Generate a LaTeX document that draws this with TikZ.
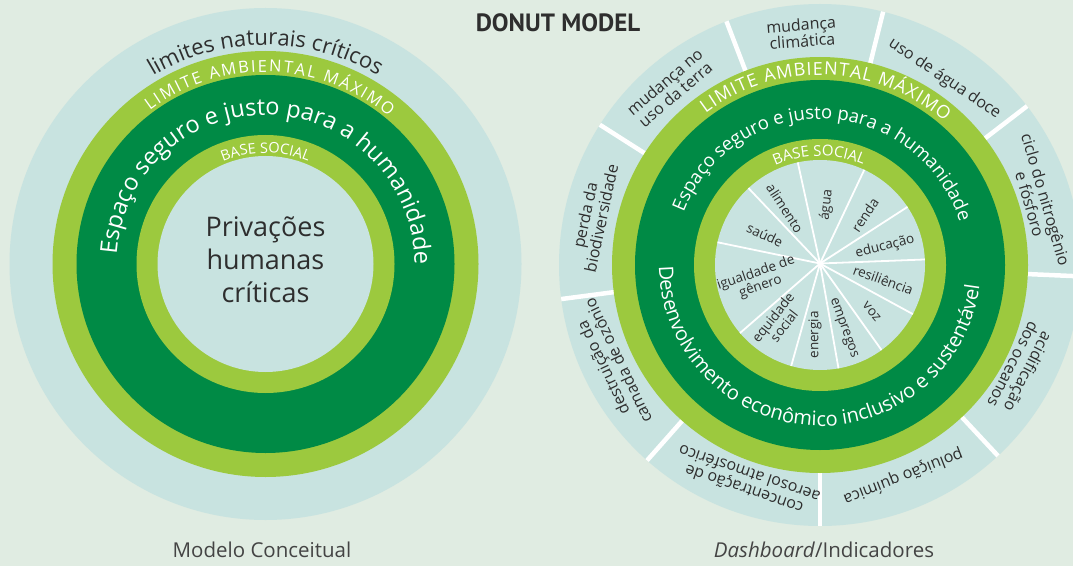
\documentclass[tikz,border=0pt]{standalone}
\usepackage{fontspec}
\setmainfont{Open Sans}
\newfontfamily\titlefont{PT Sans}
\usetikzlibrary{decorations.text}
\definecolor{bg}{HTML}{E0ECE2}
\definecolor{paleblue}{HTML}{C8E3E0}
\definecolor{lime}{HTML}{9CC93E}
\definecolor{forest}{HTML}{008A45}
\definecolor{ink}{HTML}{2E2E2E}
\definecolor{capgray}{HTML}{444444}
\begin{document}
\begin{tikzpicture}[x=1pt,y=1pt,
  inlab/.style={text=ink,font=\fontsize{13.5}{14}\selectfont,align=center,inner sep=0pt},
  outlab/.style={text=ink,font=\fontsize{16}{16.5}\selectfont,align=center,inner sep=0pt},
  spoke/.style={white,line width=1.8pt},
  sepline/.style={white,line width=4.5pt}]
\useasboundingbox (0,0) rectangle (1073,566);
\fill[bg] (0,0) rectangle (1073,566);

% ---------------- left donut ----------------
\begin{scope}[shift={(265.5,302)}]
  \fill[paleblue] (0,0) circle[radius=256];
  \fill[lime] (0,0) circle[radius=213];
  \fill[forest] (0,0) circle[radius=189];
  \fill[lime] (0,0) circle[radius=129];
  \fill[paleblue] (0,0) circle[radius=108];
  \path[decorate,decoration={text along path,text align=center,
    text={|\fontsize{22}{22}\selectfont\color{ink}|limites naturais críticos}}]
    (135:219) arc[start angle=135,end angle=45,radius=219];
  \path[decorate,decoration={text along path,text align={fit to path},
    text={|\fontsize{16.5}{16.5}\selectfont\color{white}|LIMITE AMBIENTAL MÁXIMO}}]
    (127:192) arc[start angle=127,end angle=50,radius=192];
  \path[decorate,decoration={text along path,text align=center,
    text={|\fontsize{23.5}{23.5}\selectfont\color{white}|Espaço seguro e justo para a humanidade}}]
    (180:149) arc[start angle=180,end angle=-4,radius=149];
  \path[decorate,decoration={text along path,text align=center,
    text={|\fontsize{14.5}{14.5}\selectfont\color{white}|BASE SOCIAL}}]
    (150:111) arc[start angle=150,end angle=30,radius=111];
  \node[text=ink,font=\fontsize{27}{33}\selectfont,align=center,inner sep=0pt] (priv) at (0,4) {Privações\\humanas\\críticas};
\end{scope}

% ---------------- right donut ----------------
\begin{scope}[shift={(820,301)}]
  \fill[paleblue] (0,0) circle[radius=261];
  \begin{scope}
    \clip (0,0) circle[radius=261];
    \foreach \a in {147.5,111,76,37.5,-2.5,-47,-90,-131.5,-172.5}
      \draw[sepline] (\a:200) -- (\a:275);
  \end{scope}
  \fill[lime] (0,0) circle[radius=208];
  \fill[forest] (0,0) circle[radius=185];
  \fill[lime] (0,0) circle[radius=126];
  \fill[paleblue] (0,0) circle[radius=105];
  \coordinate (hub) at (0,1.5);
  \begin{scope}
    \clip (0,0) circle[radius=105];
    \foreach \a in {102.4,64.7,32.9,2.2,-28.6,-54.6,-80,-105.7,-139,168.3,133.5}
      \draw[spoke] (hub) -- ++(\a:130);
  \end{scope}
  \path[decorate,decoration={text along path,text align={fit to path},
    text={|\fontsize{18}{18}\selectfont\color{white}|LIMITE AMBIENTAL MÁXIMO}}]
    (127:190) arc[start angle=127,end angle=49,radius=190];
  \path[decorate,decoration={text along path,text align=center,
    text={|\fontsize{18.5}{18.5}\selectfont\color{white}|Espaço seguro e justo para a humanidade}}]
    (175:146) arc[start angle=175,end angle=1,radius=146];
  \path[decorate,decoration={text along path,text align=center,
    text={|\fontsize{20}{20}\selectfont\color{white}|Desenvolvimento econômico inclusivo e sustentável}}]
    (165:161) arc[start angle=165,end angle=368,radius=161];
  \path[decorate,decoration={text along path,text align=center,
    text={|\fontsize{15}{15}\selectfont\color{white}|BASE SOCIAL}}]
    (150:109) arc[start angle=150,end angle=31,radius=109];

  % inner (social) labels
  \node[inlab,rotate=-57] (alim) at (-35,56.7) {alimento};
  \node[inlab,rotate=84] (agua) at (6.7,60) {água};
  \node[inlab,rotate=56] (renda) at (45,50) {renda};
  \node[inlab,rotate=14] (educ) at (65,18.3) {educação};
  \node[inlab,rotate=-20] (resil) at (63.3,-15) {resiliência};
  \node[inlab,rotate=-50] (voz) at (51.7,-46.7) {voz};
  \node[inlab,rotate=-70] (empr) at (23.3,-63.3) {empregos};
  \node[inlab,rotate=90] (ener) at (-5,-70) {energia};
  \node[inlab,rotate=52] (equi) at (-41.7,-56.7) {equidade\\social};
  \node[inlab,rotate=19] (igual) at (-61.7,-15) {igualdade de\\gênero};
  \node[inlab,rotate=-25] (saude) at (-55,30) {saúde};

  % outer (planetary) labels
  \node[outlab,rotate=78] (perda) at (168:232) {perda da\\biodiversidade};
  \node[outlab,rotate=40.3] (terra) at (130.3:232) {mudança no\\uso da terra};
  \node[outlab,rotate=4.5] (clima) at (94.5:233) {mudança\\climática};
  \node[outlab,rotate=-33.8] (doce) at (56.2:224) {uso de água doce};
  \node[outlab,rotate=-73.8] (ciclo) at (16.2:227) {ciclo do nitrogênio\\e fósforo};
  \node[outlab,rotate=-117.2] (acid) at (-27.2:226) {acidificação\\dos oceanos};
  \node[outlab,rotate=-158.5] (polu) at (-68.5:227) {poluição química};
  \node[outlab,rotate=-198.7] (aero) at (-108.7:229) {concentração de\\aerosol atmosférico};
  \node[outlab,rotate=-244.6] (ozon) at (-154.6:232) {destruição da\\camada de ozônio};
\end{scope}

% ---------------- titles ----------------
\node[text=ink,font=\titlefont\bfseries\fontsize{25}{25}\selectfont,inner sep=0pt] (title) at (558,543) {DONUT MODEL};
\node[text=capgray,font=\fontsize{20.5}{20.5}\selectfont,inner sep=0pt] (capl) at (262,16) {Modelo Conceitual};
\node[text=capgray,font=\fontsize{20.5}{20.5}\selectfont,inner sep=0pt] (capr) at (824,16) {\textit{Dashboard}/Indicadores};
\end{tikzpicture}
\end{document}
